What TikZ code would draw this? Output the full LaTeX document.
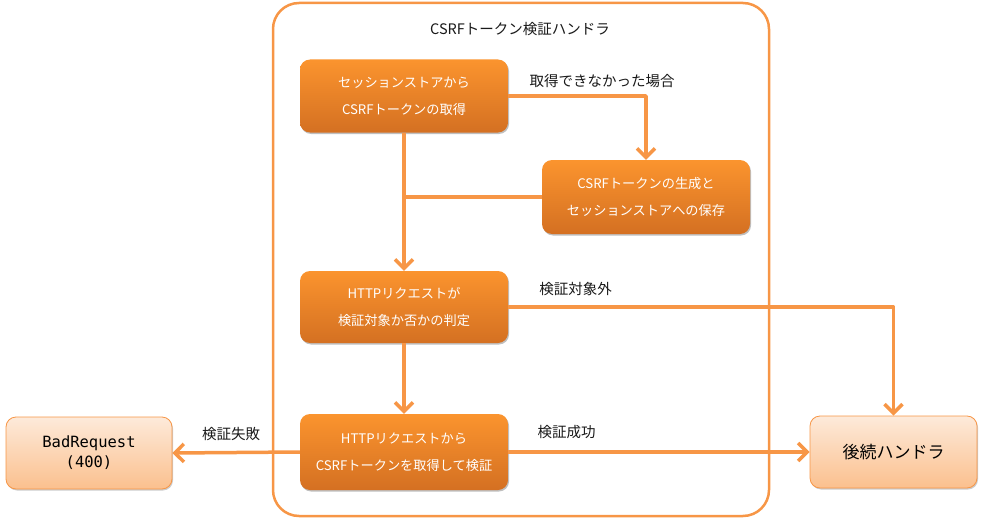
\documentclass[tikz,border=0pt]{standalone}
\usepackage{fontspec}
\setmainfont{Noto Sans CJK JP}
\setmonofont{DejaVu Sans Mono}
\usetikzlibrary{arrows.meta,shadows}
\definecolor{connc}{RGB}{247,150,70}
\definecolor{boxtop}{RGB}{251,148,46}
\definecolor{boxbot}{RGB}{212,112,34}
\definecolor{lighttop}{RGB}{253,234,218}
\definecolor{lightbot}{RGB}{251,192,142}
\begin{document}
\begin{tikzpicture}[x=1pt,y=-1pt,
  procbox/.style={rectangle, rounded corners=10pt, minimum width=208pt, minimum height=73pt,
    top color=boxtop, bottom color=boxbot, draw=none, text=white, align=center,
    font=\fontsize{13.2}{27}\selectfont,
    drop shadow={shadow xshift=1pt, shadow yshift=-1.5pt, opacity=0.25, fill=black}},
  endbox/.style={rectangle, rounded corners=10pt, minimum width=166pt, minimum height=72pt,
    top color=lighttop, bottom color=lightbot, draw=connc, line width=0.8pt, text=black, align=center,
    drop shadow={shadow xshift=1pt, shadow yshift=-1.5pt, opacity=0.2, fill=black}},
  link/.style={draw=connc, line width=3.5pt, line join=round,
    -{Straight Barb[length=9pt,width=18pt]}},
  plainlink/.style={draw=connc, line width=3.5pt, line join=round},
  lbl/.style={font=\fontsize{14.5}{16}\selectfont, text=black!90, inner sep=0pt},
  framebox/.style={rectangle, draw=connc, line width=2.5pt, rounded corners=26pt,
    minimum width=496pt, minimum height=513pt, inner sep=0pt}
]
\useasboundingbox (0,0) rectangle (983,519);

\node[framebox] (frame) at (521,259.5) {};
\node[lbl] (title) at (520,29) {CSRFトークン検証ハンドラ};

\node[procbox] (b1) at (404,96) {セッションストアから\\CSRFトークンの取得};
\node[procbox, minimum height=74pt] (b2) at (646,197) {CSRFトークンの生成と\\セッションストアへの保存};
\node[procbox, minimum height=72pt] (b3) at (404,307) {HTTPリクエストが\\検証対象か否かの判定};
\node[procbox, minimum height=76pt] (b4) at (404,452) {HTTPリクエストから\\CSRFトークンを取得して検証};

\node[endbox, font=\ttfamily\fontsize{15.5}{20}\selectfont] (bad) at (89,453) {BadRequest\\(400)};
\node[endbox, minimum width=167pt, font=\fontsize{17}{20}\selectfont] (next) at (893.5,452) {後続ハンドラ};

\coordinate (join) at (b2.west -| b1.south);

\draw[link] (b1.east) -| (b2.north);
\draw[plainlink] (b2.west) -- (join);
\draw[link] (b1.south) -- (b3.north);
\draw[link] (b3.south) -- (b4.north);
\draw[link] (b4.west) -- (bad.east);
\draw[link] (b3.east) -| (next.north);
\draw[link] (b4.east) -- (next.west);

\node[lbl] (l1) at (602,81) {取得できなかった場合};
\node[lbl] (l2) at (575.5,289) {検証対象外};
\node[lbl] (l3) at (566.5,432) {検証成功};
\node[lbl] (l4) at (231,434) {検証失敗};
\end{tikzpicture}
\end{document}
